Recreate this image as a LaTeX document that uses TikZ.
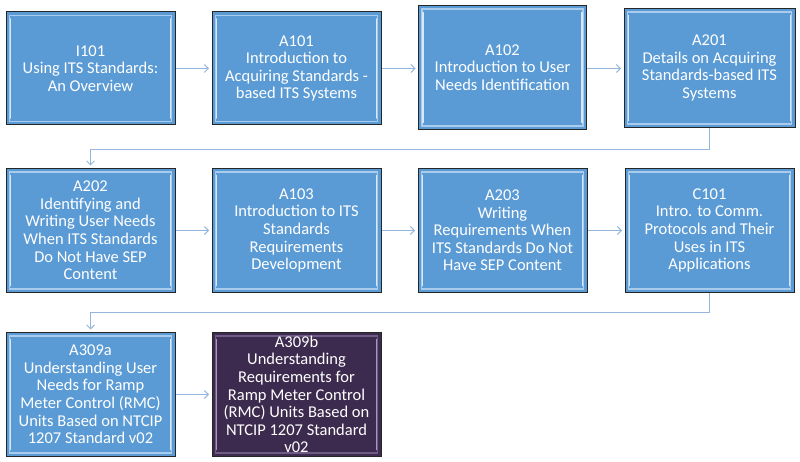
\documentclass[tikz,border=0pt]{standalone}
\usepackage{fontspec}
\setmainfont{Carlito}
\usetikzlibrary{arrows.meta,calc}
\definecolor{boxblue}{HTML}{5B9BD5}
\definecolor{boxedge}{HTML}{262626}
\definecolor{bevblue}{HTML}{A9CBEC}
\definecolor{hiblue}{HTML}{D9E8F7}
\definecolor{boxpurple}{HTML}{3D2B4F}
\definecolor{bevpurple}{HTML}{6E5C86}
\definecolor{hipurple}{HTML}{A898BE}
\definecolor{connblue}{HTML}{95B7DD}
\tikzset{
  modbase/.style={draw=boxedge, line width=1pt, text=white, align=center,
    inner sep=0pt, font=\fontsize{16.5}{17.6}\selectfont},
  bluebox/.style={modbase, fill=boxblue,
    path picture={
      \draw[bevblue, line width=1.3pt]
        ([shift={(3.5pt,3.5pt)}]path picture bounding box.south west) rectangle
        ([shift={(-3.5pt,-3.5pt)}]path picture bounding box.north east);
      \draw[hiblue, line width=1.8pt, line cap=round]
        ([shift={(4.5pt,7pt)}]path picture bounding box.south west) --
        ([shift={(4.5pt,-7pt)}]path picture bounding box.north west);
      \draw[hiblue, line width=1.8pt, line cap=round]
        ([shift={(-4.5pt,7pt)}]path picture bounding box.south east) --
        ([shift={(-4.5pt,-7pt)}]path picture bounding box.north east);
    }},
  purplebox/.style={modbase, fill=boxpurple,
    path picture={
      \draw[bevpurple, line width=1.3pt]
        ([shift={(3.5pt,3.5pt)}]path picture bounding box.south west) rectangle
        ([shift={(-3.5pt,-3.5pt)}]path picture bounding box.north east);
      \draw[hipurple, line width=1.8pt, line cap=round]
        ([shift={(4.5pt,7pt)}]path picture bounding box.south west) --
        ([shift={(4.5pt,-7pt)}]path picture bounding box.north west);
      \draw[hipurple, line width=1.8pt, line cap=round]
        ([shift={(-4.5pt,7pt)}]path picture bounding box.south east) --
        ([shift={(-4.5pt,-7pt)}]path picture bounding box.north east);
    }},
  conn/.style={draw=connblue, line width=0.9pt, -{Straight Barb[length=4pt,width=8pt]}, shorten >=2.5pt},
}
\begin{document}
\begin{tikzpicture}[x=1pt, y=-1pt]
\useasboundingbox (0,0) rectangle (800,462);
% row 1
\node[bluebox, minimum width=169pt, minimum height=113pt] (I101) at (90.5,68.5)
  {I101\\Using ITS Standards:\\An Overview};
\node[bluebox, minimum width=169pt, minimum height=113pt] (A101) at (296.5,68.5)
  {A101\\Introduction to\\Acquiring Standards -\\based ITS Systems};
\node[bluebox, minimum width=168pt, minimum height=124pt] (A102) at (502.5,67.5)
  {A102\\Introduction to User\\Needs Identification};
\node[bluebox, minimum width=171pt, minimum height=119pt] (A201) at (709.5,68)
  {A201\\Details on Acquiring\\Standards-based ITS\\Systems};
% row 2
\node[bluebox, minimum width=169pt, minimum height=124pt] (A202) at (90.5,230.5)
  {A202\\Identifying and\\Writing User Needs\\When ITS Standards\\Do Not Have SEP\\Content};
\node[bluebox, minimum width=169pt, minimum height=124pt] (A103) at (296.5,230.5)
  {A103\\Introduction to ITS\\Standards\\Requirements\\Development};
\node[bluebox, minimum width=169pt, minimum height=124pt] (A203) at (502.5,230.5)
  {A203\\Writing\\Requirements When\\ITS Standards Do Not\\Have SEP Content};
\node[bluebox, minimum width=169pt, minimum height=124pt] (C101) at (709.5,230.5)
  {C101\\Intro. to Comm.\\Protocols and Their\\Uses in ITS\\Applications};
% row 3
\node[bluebox, minimum width=169pt, minimum height=124pt] (A309a) at (90.5,394.5)
  {A309a\\Understanding User\\Needs for Ramp\\Meter Control (RMC)\\Units Based on NTCIP\\1207 Standard v02};
\node[purplebox, minimum width=169pt, minimum height=124pt] (A309b) at (296.5,394.5)
  {A309b\\Understanding\\Requirements for\\Ramp Meter Control\\(RMC) Units Based on\\NTCIP 1207 Standard\\v02};
% connectors
\draw[conn] (I101.east) -- (A101.west |- I101.east);
\draw[conn] (A101.east) -- (A102.west |- A101.east);
\draw[conn] (A102.east |- A101.east) -- (A201.west |- A101.east);
\coordinate (r1) at (0,149);
\coordinate (r2) at (0,312);
\draw[conn] (A201.south) -- (A201.south |- r1) -| (A202.north);
\draw[conn] (A202.east) -- (A103.west);
\draw[conn] (A103.east) -- (A203.west);
\draw[conn] (A203.east) -- (C101.west);
\draw[conn] (C101.south) -- (C101.south |- r2) -| (A309a.north);
\draw[conn] (A309a.east) -- (A309b.west);
\end{tikzpicture}
\end{document}
